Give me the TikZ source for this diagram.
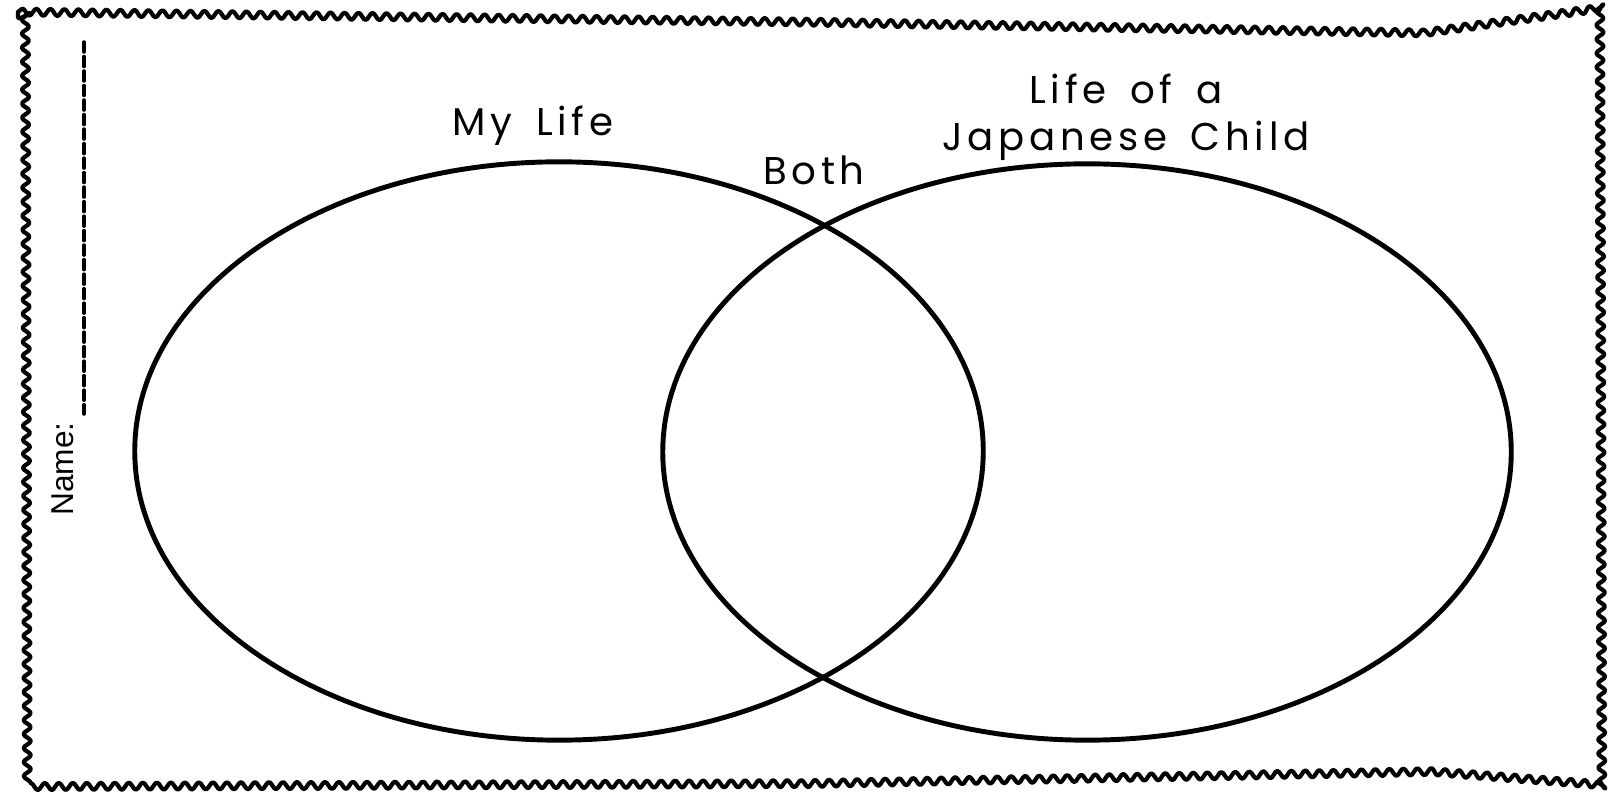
\documentclass[tikz,border=0pt]{standalone}
\usepackage{fontspec}
\setmainfont{Poppins}[LetterSpace=12,WordSpace=1.6]
\newfontfamily\namefont{Liberation Sans}
\usetikzlibrary{decorations.pathmorphing}

\begin{document}
\begin{tikzpicture}[x=0.01cm,y=-0.01cm,line cap=round,line join=round,
  every node/.style={inner sep=1pt},
  ring/.style={line width=1.4pt},
  title/.style={font=\fontsize{11}{13.3}\selectfont,align=center}]
  \useasboundingbox (0,0) rectangle (1616,804);
  % wavy frame
  \draw[line width=1.2pt,decorate,decoration={snake,amplitude=0.35mm,segment length=1.4mm}]
    (18,12) -- (800,22) -- (1420,33) -- (1598,8) -- (1600,792) -- (1420,778) -- (800,790) -- (20,793) -- cycle;
  % name line
  \coordinate (ntop) at (84,42);
  \coordinate (nbot) at (84,414);
  \draw[line width=1pt,dash pattern=on 1mm off 0.45mm] (ntop) -- (nbot);
  \node[rotate=90,font=\namefont\fontsize{9}{9}\selectfont] (name) at (63,469) {Name:};
  % circles
  \coordinate (left) at (559,451);
  \coordinate (right) at (1087,452);
  \draw[ring] (left) ellipse[x radius=4.24cm,y radius=2.89cm];
  \draw[ring] (right) ellipse[x radius=4.24cm,y radius=2.88cm];
  \node[title] (mine) at (533,126) {My Life};
  \node[title] (both) at (814,170) {Both};
  \node[title] (japan) at (1126,117) {Life of a\\Japanese Child};
\end{tikzpicture}
\end{document}
